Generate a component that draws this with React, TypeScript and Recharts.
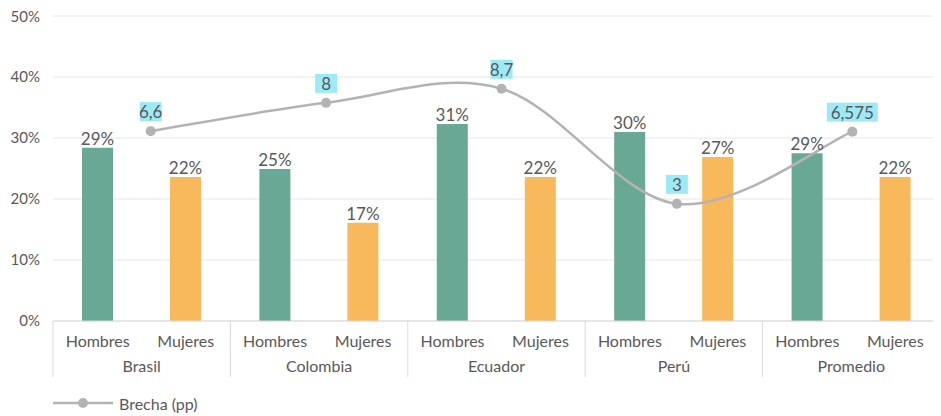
import React from 'react';
import {
  ComposedChart, Bar, Line, XAxis, YAxis, CartesianGrid, LabelList, Legend,
} from 'recharts';

const countries = ['Brasil', 'Colombia', 'Ecuador', 'Perú', 'Promedio'];
const hombres = [28.4, 24.9, 32.3, 31.0, 27.5];
const mujeres = [23.6, 16.1, 23.6, 26.9, 23.6];
const hombresLabels = ['29%', '25%', '31%', '30%', '29%'];
const mujeresLabels = ['22%', '17%', '22%', '27%', '22%'];
const brecha = [6.6, 8, 8.7, 3, 6.575];
const brechaLabels = ['6,6', '8', '8,7', '3', '6,575'];
const yTicks = [0, 10, 20, 30, 40, 50];

const data = countries.map((pais, i) => ({
  pais,
  hombres: hombres[i],
  mujeres: mujeres[i],
  brecha: brecha[i],
  hLabel: hombresLabels[i],
  mLabel: mujeresLabels[i],
  bLabel: brechaLabels[i],
}));

const W = 933;
const H = 408;
const M = { top: 8, right: 1, left: 0, bottom: 15 };
const YW = 45;
const XH = 56;
const PLOT_BOTTOM = 313;
const BAND = (W - M.right - YW) / countries.length;
const TEXT = '#595959';
const FONT = 'Lato, sans-serif';

// Excel-like smoothed line (Catmull-Rom style bezier)
const excelCurve = (context: any) => {
  let pts: number[][] = [];
  return {
    areaStart() {},
    areaEnd() {},
    lineStart() { pts = []; },
    point(x: number, y: number) { pts.push([+x, +y]); },
    lineEnd() {
      if (!pts.length) return;
      context.moveTo(pts[0][0], pts[0][1]);
      for (let i = 0; i < pts.length - 1; i++) {
        const p0 = pts[i - 1] || pts[i];
        const p1 = pts[i];
        const p2 = pts[i + 1];
        const p3 = pts[i + 2] || pts[i + 1];
        context.bezierCurveTo(
          p1[0] + (p2[0] - p0[0]) / 6, p1[1] + (p2[1] - p0[1]) / 6,
          p2[0] - (p3[0] - p1[0]) / 6, p2[1] - (p3[1] - p1[1]) / 6,
          p2[0], p2[1],
        );
      }
    },
  };
};

const CountryTick = (props: any) => {
  const { x, payload, index } = props;
  const half = BAND / 2;
  const ts = { fontSize: 16, fill: TEXT, fontFamily: FONT };
  return (
    <g>
      <text x={x - 44} y={PLOT_BOTTOM + 26} textAnchor="middle" style={ts}>Hombres</text>
      <text x={x + 44} y={PLOT_BOTTOM + 26} textAnchor="middle" style={ts}>Mujeres</text>
      <text x={x} y={PLOT_BOTTOM + 51} textAnchor="middle" style={ts}>{payload.value}</text>
      <line x1={x - half} x2={x - half} y1={PLOT_BOTTOM} y2={PLOT_BOTTOM + XH} stroke="#D9D9D9" />
      {index === countries.length - 1 && (
        <line x1={x + half} x2={x + half} y1={PLOT_BOTTOM} y2={PLOT_BOTTOM + XH} stroke="#D9D9D9" />
      )}
    </g>
  );
};

const BrechaLabel = (props: any) => {
  const { x, y, value } = props;
  const s = String(value);
  const w = s.length > 3 ? 10 * s.length + 1 : 22;
  return (
    <g>
      <rect x={x - w / 2} y={y - 29} width={w} height={19} fill="#9DEAF7" />
      <text x={x} y={y - 13} textAnchor="middle" style={{ fontSize: 17, fill: TEXT, fontFamily: FONT }}>{s}</text>
    </g>
  );
};

const LegendContent = () => (
  <div style={{ display: 'flex', alignItems: 'center', height: 24, fontFamily: FONT, fontSize: 16, color: TEXT }}>
    <svg width={66} height={24}>
      <line x1={0} x2={60} y1={12} y2={12} stroke="#B3B3B3" strokeWidth={2.5} />
      <circle cx={30} cy={12} r={5} fill="#B3B3B3" />
    </svg>
    <span style={{ marginTop: 0 }}>Brecha (pp)</span>
  </div>
);

export default function App() {
  return (
    <div style={{ width: W, height: H, fontFamily: FONT }}>
      <ComposedChart width={W} height={H} data={data} margin={M} barGap={57}>
        <CartesianGrid vertical={false} stroke="#E6E6E6" />
        <XAxis
          dataKey="pais"
          interval={0}
          height={XH}
          tickLine={false}
          axisLine={{ stroke: '#D9D9D9' }}
          tick={<CountryTick />}
        />
        <XAxis xAxisId="line" dataKey="pais" hide padding={{ left: 10, right: 0 }} />
        <YAxis
          width={YW}
          domain={[0, 50]}
          ticks={yTicks}
          tickFormatter={(v: number) => `${v}%`}
          tickLine={false}
          axisLine={false}
          tickSize={6}
          tickMargin={7}
          tick={{ fontSize: 15, fill: TEXT, fontFamily: FONT }}
        />
        <YAxis yAxisId="right" orientation="right" hide domain={[-2.8, 12.3]} />
        <Bar dataKey="hombres" fill="#68A894" barSize={31} isAnimationActive={false}>
          <LabelList dataKey="hLabel" position="top" offset={3} style={{ fontSize: 17, fill: TEXT, fontFamily: FONT }} />
        </Bar>
        <Bar dataKey="mujeres" fill="#F7B95B" barSize={31} isAnimationActive={false}>
          <LabelList dataKey="mLabel" position="top" offset={3} style={{ fontSize: 17, fill: TEXT, fontFamily: FONT }} />
        </Bar>
        <Line
          xAxisId="line"
          yAxisId="right"
          dataKey="brecha"
          type={excelCurve as any}
          stroke="#B3B3B3"
          strokeWidth={2.5}
          dot={{ r: 5, fill: '#B3B3B3', stroke: '#B3B3B3', strokeWidth: 0 }}
          isAnimationActive={false}
        >
          <LabelList dataKey="bLabel" content={<BrechaLabel />} />
        </Line>
        <Legend
          verticalAlign="bottom"
          align="left"
          content={<LegendContent />}
          wrapperStyle={{ left: 45, bottom: 1, width: 300 }}
        />
      </ComposedChart>
    </div>
  );
}
